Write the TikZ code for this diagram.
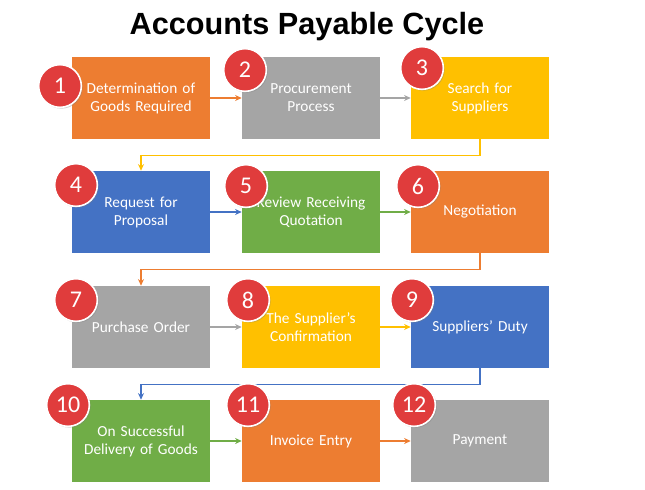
\documentclass[tikz,border=0pt]{standalone}
\usepackage{fontspec}
\setmainfont{Carlito}
\newfontfamily\titlefont{Liberation Sans}
\usetikzlibrary{arrows.meta,shadows}
\definecolor{cO}{HTML}{ED7D31}
\definecolor{cG}{HTML}{A5A5A5}
\definecolor{cY}{HTML}{FFC000}
\definecolor{cB}{HTML}{4472C4}
\definecolor{cN}{HTML}{70AD47}
\definecolor{cR}{HTML}{E03C3C}
\begin{document}
\begin{tikzpicture}[x=0.75pt,y=-0.75pt,
  box/.style={minimum width=103.5pt,minimum height=61.5pt,inner sep=2pt,text width=90pt,align=center,text=white,font=\fontsize{11.5}{13.5}\selectfont},
  num/.style={circle,fill=cR,draw=white,line width=1.2pt,minimum size=32pt,inner sep=0pt,text=white,font=\fontsize{18}{18}\selectfont,drop shadow={opacity=0.35,shadow xshift=1pt,shadow yshift=-1pt}},
  con/.style={line width=0.8pt,-{Stealth[length=5pt,width=4.5pt]}}]
\useasboundingbox (0,0) rectangle (645,489);
\node[font=\titlefont\bfseries\fontsize{23}{26}\selectfont] (title) at (307,27) {Accounts Payable Cycle};
\node[box,fill=cO] (b1) at (141,98) {Determination of Goods Required};
\node[box,fill=cG] (b2) at (311,98) {Procurement Process};
\node[box,fill=cY] (b3) at (480,98) {Search for Suppliers};
\node[box,fill=cB] (b4) at (141,212) {Request for Proposal};
\node[box,fill=cN] (b5) at (311,212) {Review Receiving Quotation};
\node[box,fill=cO] (b6) at (480,212) {Negotiation};
\node[box,fill=cG] (b7) at (141,327) {Purchase Order};
\node[box,fill=cY] (b8) at (311,327) {The Supplier's Confirmation};
\node[box,fill=cB] (b9) at (480,327) {Suppliers' Duty};
\node[box,fill=cN] (b10) at (141,441) {On Successful Delivery of Goods};
\node[box,fill=cO] (b11) at (311,441) {Invoice Entry};
\node[box,fill=cG] (b12) at (480,441) {Payment};
\draw[con,cO] (b1) -- (b2);
\draw[con,cG] (b2) -- (b3);
\draw[con,cB] (b4) -- (b5);
\draw[con,cN] (b5) -- (b6);
\draw[con,cG] (b7) -- (b8);
\draw[con,cY] (b8) -- (b9);
\draw[con,cN] (b10) -- (b11);
\draw[con,cO] (b11) -- (b12);
\draw[con,cY] (b3.south) -- ++(0,16) -| (b4.north);
\draw[con,cO] (b6.south) -- ++(0,16) -| (b7.north);
\draw[con,cB] (b9.south) -- ++(0,16) -| (b10.north);
\node[num] (n1) at (60,86) {1};
\node[num] (n2) at (245,70) {2};
\node[num] (n3) at (422,68) {3};
\node[num] (n4) at (76,185) {4};
\node[num] (n5) at (246,186) {5};
\node[num] (n6) at (418,186) {6};
\node[num] (n7) at (76,300) {7};
\node[num] (n8) at (248,300) {8};
\node[num] (n9) at (412,300) {9};
\node[num] (n10) at (68,405) {10};
\node[num] (n11) at (248,405) {11};
\node[num] (n12) at (414,405) {12};
\end{tikzpicture}
\end{document}
